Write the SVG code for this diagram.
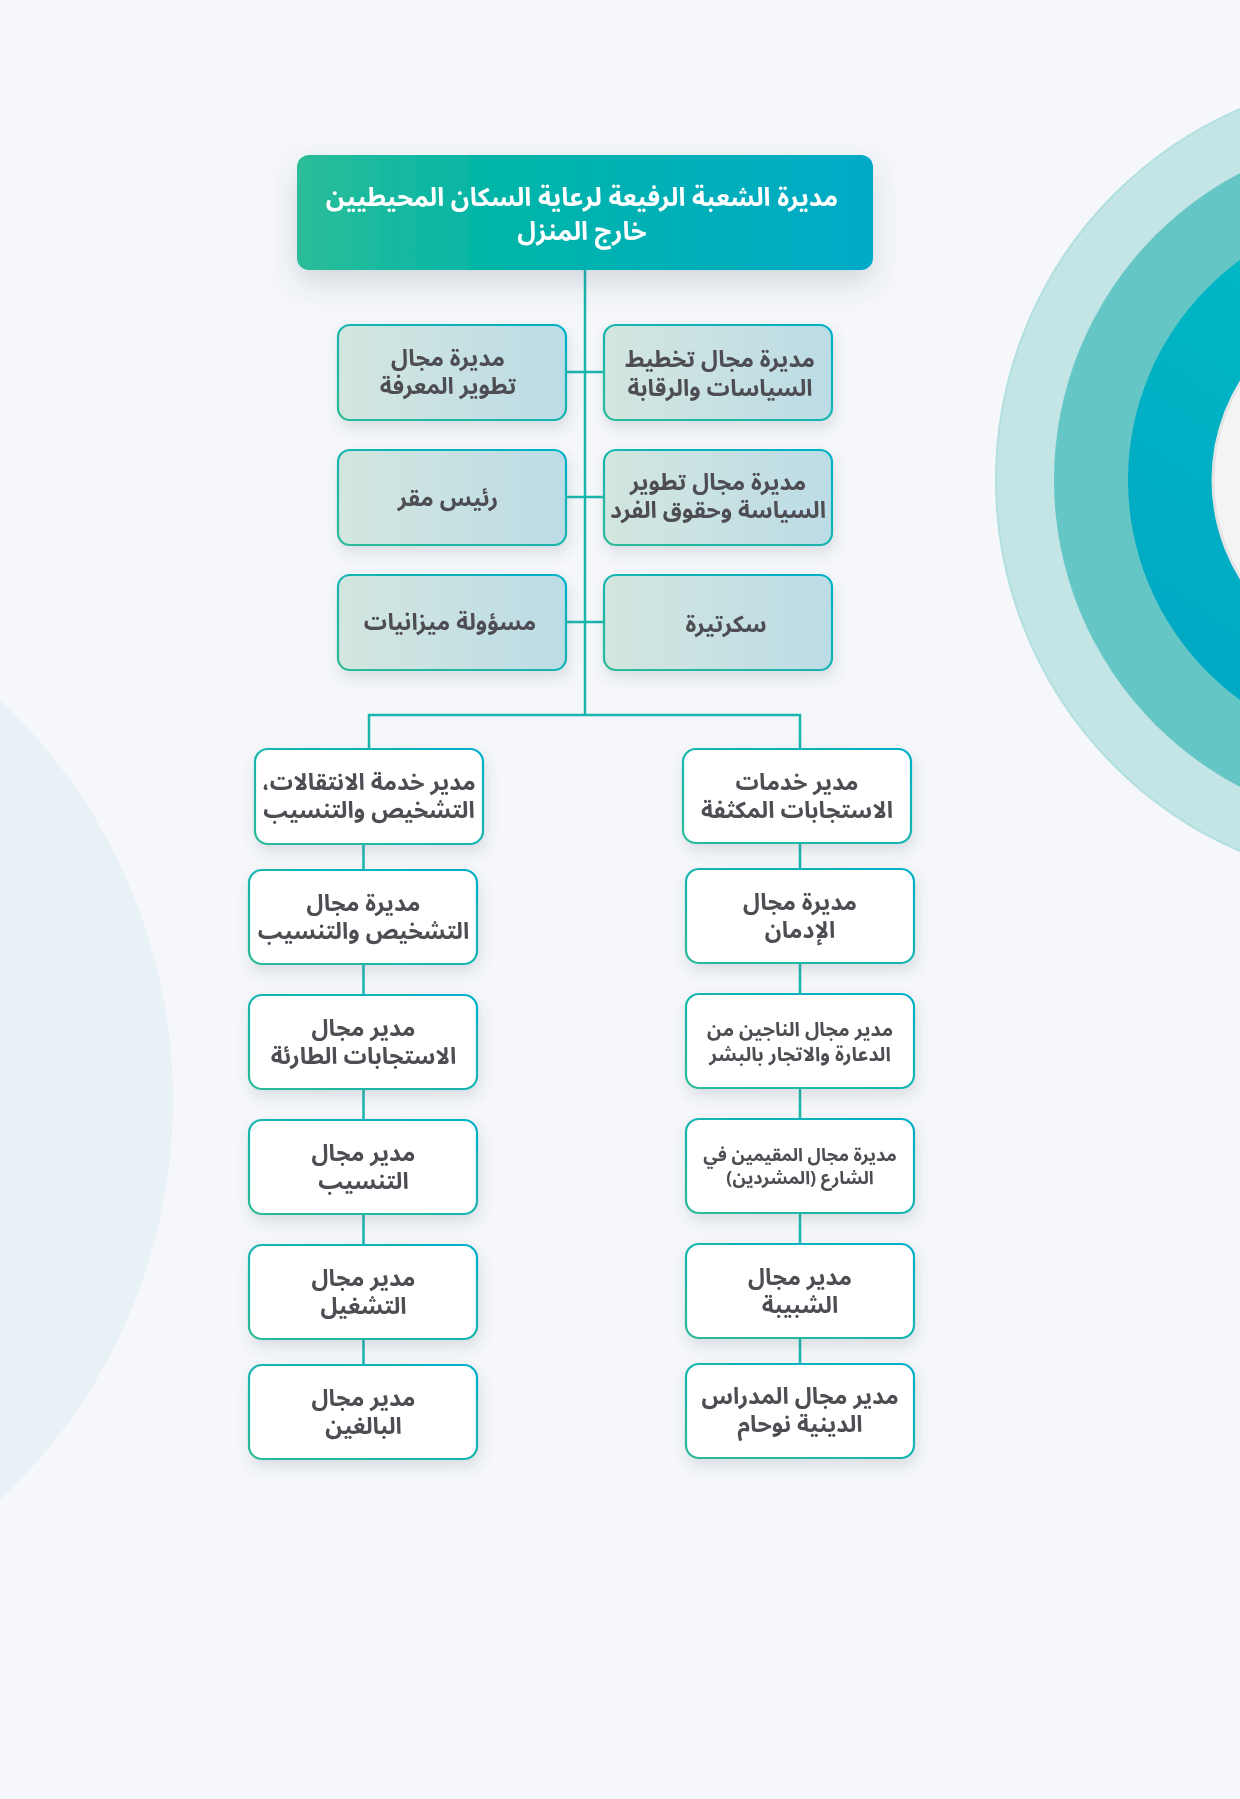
<svg xmlns="http://www.w3.org/2000/svg" width="1240" height="1799" viewBox="0 0 1240 1799">
<defs>
<linearGradient id="gTop" x1="0" y1="0" x2="1" y2="0">
<stop offset="0" stop-color="#2bbd98"/><stop offset="0.35" stop-color="#00b5a8"/><stop offset="1" stop-color="#00aac8"/>
</linearGradient>
<linearGradient id="gRow" x1="0" y1="0" x2="1" y2="0">
<stop offset="0" stop-color="#d3e6df"/><stop offset="1" stop-color="#bcdce6"/>
</linearGradient>
<linearGradient id="gStroke" x1="0" y1="1" x2="1" y2="0">
<stop offset="0" stop-color="#2abb98"/><stop offset="1" stop-color="#00b0c8"/>
</linearGradient>
<linearGradient id="gRing" x1="1" y1="0" x2="0.3" y2="1">
<stop offset="0" stop-color="#3cc6c0"/><stop offset="0.4" stop-color="#00b8c4"/><stop offset="1" stop-color="#00a8c4"/>
</linearGradient>
<filter id="sh" x="-20%" y="-30%" width="140%" height="170%">
<feDropShadow dx="2" dy="7" stdDeviation="7" flood-color="#4a5a6a" flood-opacity="0.16"/>
</filter>
<filter id="shTop" x="-20%" y="-40%" width="140%" height="190%">
<feDropShadow dx="0" dy="12" stdDeviation="14" flood-color="#4a5a6a" flood-opacity="0.2"/>
</filter>
<style>
.t{font-family:'Noto Sans Arabic','DejaVu Sans','Noto Sans',sans-serif;font-weight:bold;fill:#4d4d52;text-anchor:middle;dominant-baseline:central;direction:rtl;font-size:23px}
.tw{fill:#ffffff;font-size:25.5px}
.s19{font-size:18px}
.s20{font-size:19.5px}
.row{fill:url(#gRow);stroke:url(#gStroke);stroke-width:2.2}
.low{fill:#ffffff;stroke:url(#gStroke);stroke-width:2.2}
.c{stroke:#1ab5ad;stroke-width:2.5;fill:none}
</style>
</defs>
<rect x="0" y="0" width="1240" height="1799" fill="#f5f7fa"/>
<g id="background">
<circle cx="-376" cy="1100" r="549" fill="#e8f1f6"/>
<circle cx="1400" cy="480" r="404" fill="#c3e5e6" stroke="#b2dfdf" stroke-width="2"/>
<circle cx="1400" cy="480" r="346" fill="#65c6c6"/>
<circle cx="1400" cy="480" r="272" fill="url(#gRing)"/>
<circle cx="1400" cy="480" r="187" fill="#f4f4f5" stroke="#e2e4e6" stroke-width="3"/>
</g>
<g id="connectors">
<path class="c" d="M585 270 V715"/>
<path class="c" d="M566 372 H604 M566 497 H604 M566 622 H604"/>
<path class="c" d="M369 749 V715 H800 V749"/>
<path class="c" d="M363.5 844 V870 M363.5 964 V995 M363.5 1089 V1120 M363.5 1214 V1245 M363.5 1339 V1365"/>
<path class="c" d="M800 843 V869 M800 963 V994 M800 1088 V1119 M800 1213 V1244 M800 1338 V1364"/>
</g>
<g id="n-top" filter="url(#shTop)">
<rect x="297" y="155" width="576" height="115" rx="12" fill="url(#gTop)"/>
<text class="t tw"><tspan x="582" y="198">مديرة الشعبة الرفيعة لرعاية السكان المحيطيين</tspan><tspan x="582" y="232">خارج المنزل</tspan></text>
</g>
<g id="n-knowledge" filter="url(#sh)">
<rect class="row" x="338" y="325" width="228" height="95" rx="12"/>
<text class="t"><tspan x="448" y="358">مديرة مجال</tspan><tspan x="448" y="386">تطوير المعرفة</tspan></text>
</g>
<g id="n-planning" filter="url(#sh)">
<rect class="row" x="604" y="325" width="228" height="95" rx="12"/>
<text class="t"><tspan x="720" y="359">مديرة مجال تخطيط</tspan><tspan x="720" y="388">السياسات والرقابة</tspan></text>
</g>
<g id="n-head" filter="url(#sh)">
<rect class="row" x="338" y="450" width="228" height="95" rx="12"/>
<text class="t" x="448" y="498">رئيس مقر</text>
</g>
<g id="n-policy" filter="url(#sh)">
<rect class="row" x="604" y="450" width="228" height="95" rx="12"/>
<text class="t"><tspan x="718" y="482">مديرة مجال تطوير</tspan><tspan x="718" y="510">السياسة وحقوق الفرد</tspan></text>
</g>
<g id="n-budget" filter="url(#sh)">
<rect class="row" x="338" y="575" width="228" height="95" rx="12"/>
<text class="t" x="450" y="622">مسؤولة ميزانيات</text>
</g>
<g id="n-secretary" filter="url(#sh)">
<rect class="row" x="604" y="575" width="228" height="95" rx="12"/>
<text class="t" x="726" y="624">سكرتيرة</text>
</g>
<g id="n-transitions" filter="url(#sh)">
<rect class="low" x="255" y="749" width="228" height="95" rx="13"/>
<text class="t"><tspan x="369" y="782">مدير خدمة الانتقالات،</tspan><tspan x="369" y="810">التشخيص والتنسيب</tspan></text>
</g>
<g id="n-diagnosis" filter="url(#sh)">
<rect class="low" x="249" y="870" width="228" height="94" rx="13"/>
<text class="t"><tspan x="363.5" y="903">مديرة مجال</tspan><tspan x="363.5" y="931">التشخيص والتنسيب</tspan></text>
</g>
<g id="n-emergency" filter="url(#sh)">
<rect class="low" x="249" y="995" width="228" height="94" rx="13"/>
<text class="t"><tspan x="363.5" y="1028">مدير مجال</tspan><tspan x="363.5" y="1056">الاستجابات الطارئة</tspan></text>
</g>
<g id="n-placement" filter="url(#sh)">
<rect class="low" x="249" y="1120" width="228" height="94" rx="13"/>
<text class="t"><tspan x="363.5" y="1153">مدير مجال</tspan><tspan x="363.5" y="1181">التنسيب</tspan></text>
</g>
<g id="n-employment" filter="url(#sh)">
<rect class="low" x="249" y="1245" width="228" height="94" rx="13"/>
<text class="t"><tspan x="363.5" y="1278">مدير مجال</tspan><tspan x="363.5" y="1306">التشغيل</tspan></text>
</g>
<g id="n-adults" filter="url(#sh)">
<rect class="low" x="249" y="1365" width="228" height="94" rx="13"/>
<text class="t"><tspan x="363.5" y="1398">مدير مجال</tspan><tspan x="363.5" y="1426">البالغين</tspan></text>
</g>
<g id="n-intensive" filter="url(#sh)">
<rect class="low" x="683" y="749" width="228" height="94" rx="13"/>
<text class="t"><tspan x="797" y="782">مدير خدمات</tspan><tspan x="797" y="810">الاستجابات المكثفة</tspan></text>
</g>
<g id="n-addiction" filter="url(#sh)">
<rect class="low" x="686" y="869" width="228" height="94" rx="13"/>
<text class="t"><tspan x="800" y="902">مديرة مجال</tspan><tspan x="800" y="930">الإدمان</tspan></text>
</g>
<g id="n-survivors" filter="url(#sh)">
<rect class="low" x="686" y="994" width="228" height="94" rx="13"/>
<text class="t s20"><tspan x="800" y="1029">مدير مجال الناجين من</tspan><tspan x="800" y="1054">الدعارة والاتجار بالبشر</tspan></text>
</g>
<g id="n-homeless" filter="url(#sh)">
<rect class="low" x="686" y="1119" width="228" height="94" rx="13"/>
<text class="t s19"><tspan x="800" y="1155">مديرة مجال المقيمين في</tspan><tspan x="800" y="1178">الشارع (المشردين)</tspan></text>
</g>
<g id="n-youth" filter="url(#sh)">
<rect class="low" x="686" y="1244" width="228" height="94" rx="13"/>
<text class="t"><tspan x="800" y="1277">مدير مجال</tspan><tspan x="800" y="1305">الشبيبة</tspan></text>
</g>
<g id="n-schools" filter="url(#sh)">
<rect class="low" x="686" y="1364" width="228" height="94" rx="13"/>
<text class="t"><tspan x="800" y="1396">مدير مجال المدراس</tspan><tspan x="800" y="1424">الدينية نوحام</tspan></text>
</g>
</svg>
